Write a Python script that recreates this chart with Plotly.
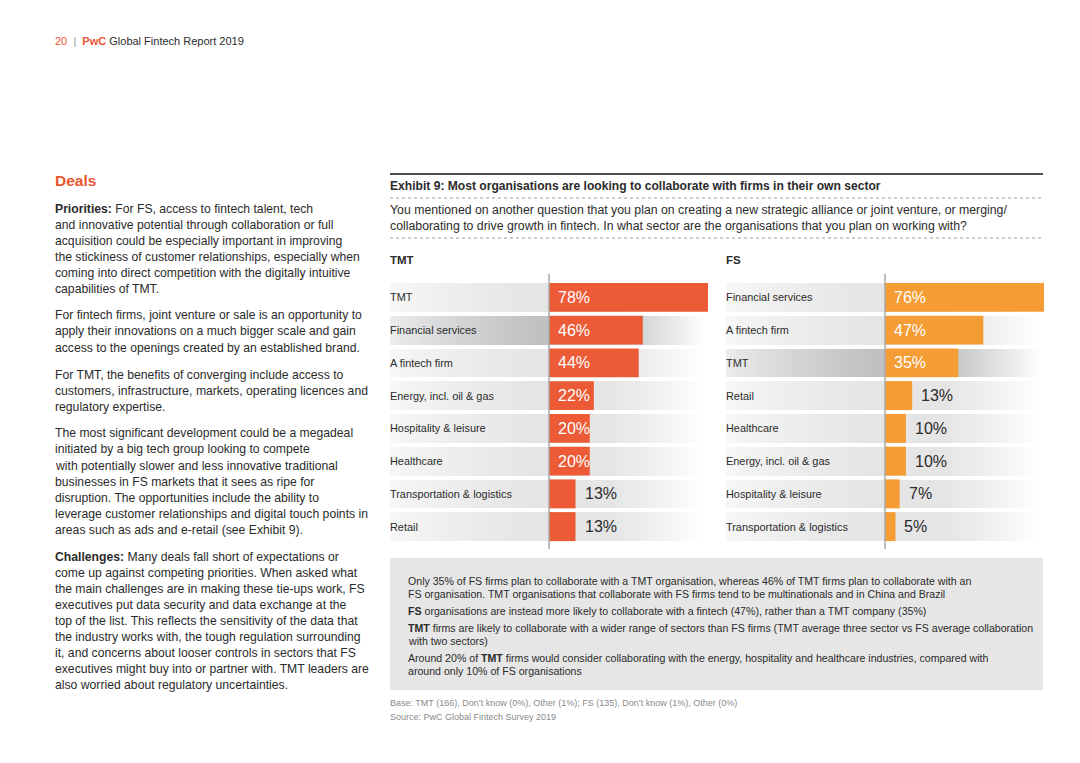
import plotly.graph_objects as go

# page offset: the browser body keeps an 8px margin, so the figure is drawn 8px in
OFF = 8
W, H = 1080 - OFF, 763 - OFF

# ---------------- data ----------------
tmt_categories = ["TMT", "Financial services", "A fintech firm", "Energy, incl. oil & gas",
                  "Hospitality & leisure", "Healthcare", "Transportation & logistics", "Retail"]
tmt_values = [78, 46, 44, 22, 20, 20, 13, 13]
tmt_highlight = "Financial services"

fs_categories = ["Financial services", "A fintech firm", "TMT", "Retail",
                 "Healthcare", "Energy, incl. oil & gas", "Hospitality & leisure", "Transportation & logistics"]
fs_values = [76, 47, 35, 13, 10, 10, 7, 5]
fs_highlight = "TMT"

left_lines = [
    "<b>Priorities:</b> For FS, access to fintech talent, tech",
    "and innovative potential through collaboration or full",
    "acquisition could be especially important in improving",
    "the stickiness of customer relationships, especially when",
    "coming into direct competition with the digitally intuitive",
    "capabilities of TMT.",
    None,
    "For fintech firms, joint venture or sale is an opportunity to",
    "apply their innovations on a much bigger scale and gain",
    "access to the openings created by an established brand.",
    None,
    "For TMT, the benefits of converging include access to",
    "customers, infrastructure, markets, operating licences and",
    "regulatory expertise.",
    None,
    "The most significant development could be a megadeal",
    "initiated by a big tech group looking to compete",
    "with potentially slower and less innovative traditional",
    "businesses in FS markets that it sees as ripe for",
    "disruption. The opportunities include the ability to",
    "leverage customer relationships and digital touch points in",
    "areas such as ads and e-retail (see Exhibit 9).",
    None,
    "<b>Challenges:</b> Many deals fall short of expectations or",
    "come up against competing priorities. When asked what",
    "the main challenges are in making these tie-ups work, FS",
    "executives put data security and data exchange at the",
    "top of the list. This reflects the sensitivity of the data that",
    "the industry works with, the tough regulation surrounding",
    "it, and concerns about looser controls in sectors that FS",
    "executives might buy into or partner with. TMT leaders are",
    "also worried about regulatory uncertainties.",
]

box_lines = [
    ("Only 35% of FS firms plan to collaborate with a TMT organisation, whereas 46% of TMT firms plan to collaborate with an", 581),
    ("FS organisation. TMT organisations that collaborate with FS firms tend to be multinationals and in China and Brazil", 594),
    ("<b>FS</b> organisations are instead more likely to collaborate with a fintech (47%), rather than a TMT company (35%)", 611),
    ("<b>TMT</b> firms are likely to collaborate with a wider range of sectors than FS firms (TMT average three sector vs FS average collaboration", 628),
    ("with two sectors)", 641),
    ("Around 20% of <b>TMT</b> firms would consider collaborating with the energy, hospitality and healthcare industries, compared with", 658),
    ("around only 10% of FS organisations", 671),
]

title_text = "Exhibit 9: Most organisations are looking to collaborate with firms in their own sector"
question_lines = [
    "You mentioned on another question that you plan on creating a new strategic alliance or joint venture, or merging/",
    "collaborating to drive growth in fintech. In what sector are the organisations that you plan on working with?",
]
base_text = "Base: TMT (166), Don\u2019t know (0%), Other (1%); FS (135), Don\u2019t know (1%), Other (0%)"
source_text = "Source: PwC Global Fintech Survey 2019"

# ---------------- style ----------------
FONT = "Liberation Sans, Arial, Helvetica, sans-serif"
TXT = "#2b2b2b"
ORANGE_RED = "#e9552f"
TMT_COLOR = "#ec5a36"
FS_COLOR = "#f59c34"


def px(x):
    return (x - OFF) / W


def py(y):
    return 1 - (y - OFF) / H


fig = go.Figure()


def profile(t):
    if t < 0.45:
        return 0.3 + 0.7 * (t / 0.45) ** 0.8
    if t < 0.7:
        return 1.0
    return max(0.0, 1 - (t - 0.7) / 0.3)


def add_panel(cats, vals, highlight, color, xa, ya, half):
    ncol = 90
    xs = [-half + (i + 0.5) * (2 * half / ncol) for i in range(ncol)]
    z = []
    for c in cats:
        lvl = 1.0 if c == highlight else 0.42
        z.append([profile(i / (ncol - 1)) * lvl for i in range(ncol)])
    fig.add_trace(go.Heatmap(
        x=xs, y=list(range(len(cats))), z=z, zmin=0, zmax=1,
        colorscale=[[0, "#ffffff"], [1, "#c0c1c3"]], showscale=False,
        ygap=4, xgap=0, hoverinfo="skip", xaxis=xa, yaxis=ya))
    fig.add_trace(go.Bar(
        x=vals, y=list(range(len(cats))), orientation="h", width=0.885,
        marker=dict(color=color, line=dict(width=0)), xaxis=xa, yaxis=ya,
        hoverinfo="skip", showlegend=False))


add_panel(tmt_categories, tmt_values, tmt_highlight, TMT_COLOR, "x", "y", 78)
add_panel(fs_categories, fs_values, fs_highlight, FS_COLOR, "x2", "y2", 76)

ydom = [py(543), py(281)]
ax_common = dict(showgrid=False, zeroline=False, showticklabels=False, showline=False, ticks="", fixedrange=True)
fig.update_layout(
    xaxis=dict(domain=[px(390), px(708)], range=[-78, 78], anchor="y", **ax_common),
    yaxis=dict(domain=ydom, range=[7.5, -0.5], anchor="x", **ax_common),
    xaxis2=dict(domain=[px(726), px(1044)], range=[-76, 76], anchor="y2", **ax_common),
    yaxis2=dict(domain=ydom, range=[7.5, -0.5], anchor="x2", **ax_common),
)

annotations = []
shapes = []


def txt(x, y, text, size, color=TXT, xanchor="left", **kw):
    annotations.append(dict(x=px(x - 2), y=py(y), xref="paper", yref="paper", text=text,
                            showarrow=False, xanchor=xanchor, yanchor="middle",
                            font=dict(family=FONT, size=size, color=color), **kw))


# panel labels and value labels
for cats, vals, xa, ya, lx in [(tmt_categories, tmt_values, "x", "y", 390),
                               (fs_categories, fs_values, "x2", "y2", 726)]:
    for i, (c, v) in enumerate(zip(cats, vals)):
        annotations.append(dict(x=px(lx - 2), y=i, xref="paper", yref=ya, text=c, showarrow=False,
                                xanchor="left", yanchor="middle",
                                font=dict(family=FONT, size=10.9, color=TXT)))
        inside = v > 15
        annotations.append(dict(x=0 if inside else v, y=i, xref=xa, yref=ya, text=f"{v}%",
                                showarrow=False, xanchor="left", yanchor="middle", xshift=7,
                                font=dict(family=FONT, size=16, color="#ffffff" if inside else TXT)))
    shapes.append(dict(type="line", xref=xa, yref="paper", x0=0, x1=0, y0=py(549), y1=py(274),
                       line=dict(color="#a8a8a8", width=1.5), layer="above"))

# header
txt(55, 41, "<span style='color:#e9552f'>20</span>  <span style='color:#999999'>|</span>  "
    "<b><span style='color:#e9552f'>PwC</span></b> Global Fintech Report 2019", 11)
txt(55, 181, "<b>Deals</b>", 15.5, color=ORANGE_RED)

# left column
ys = [209, 225, 241, 257, 273, 289, None, 315, 331, 348, None, 375, 391, 407, None,
      433, 449, 466, 482, 498, 514, 530, None, 557, 573, 589, 605, 621, 637, 653, 669, 685]
for line, y in zip(left_lines, ys):
    if line is None:
        continue
    txt(55, y, line, 12.2)

# right column header
shapes.append(dict(type="line", xref="paper", yref="paper", x0=px(390), x1=px(1043), y0=py(174), y1=py(174),
                   line=dict(color="#4d4d4f", width=2)))
txt(390, 186, "<b>" + title_text + "</b>", 12.1)
for yl in (198, 238):
    shapes.append(dict(type="line", xref="paper", yref="paper", x0=px(390), x1=px(1043), y0=py(yl), y1=py(yl),
                       line=dict(color="#9a9a9a", width=1, dash="dot")))
txt(390, 210, question_lines[0], 12.3)
txt(390, 226, question_lines[1], 12.3)
txt(390, 260, "<b>TMT</b>", 11.5)
txt(726, 260, "<b>FS</b>", 11.5)

# grey box
shapes.append(dict(type="rect", xref="paper", yref="paper", x0=px(390), x1=px(1043), y0=py(690), y1=py(558),
                   fillcolor="#e6e6e6", line=dict(width=0), layer="below"))
for line, y in box_lines:
    txt(408, y, line, 10.6)

txt(390, 703, base_text, 9, color="#8a8a8a")
txt(390, 717, source_text, 9, color="#8a8a8a")

fig.update_layout(
    width=W, height=H, margin=dict(l=0, r=0, t=0, b=0),
    paper_bgcolor="#ffffff", plot_bgcolor="rgba(0,0,0,0)",
    showlegend=False, annotations=annotations, shapes=shapes,
    font=dict(family=FONT, color=TXT),
)

fig.write_html("out.html", config={"displayModeBar": False})
